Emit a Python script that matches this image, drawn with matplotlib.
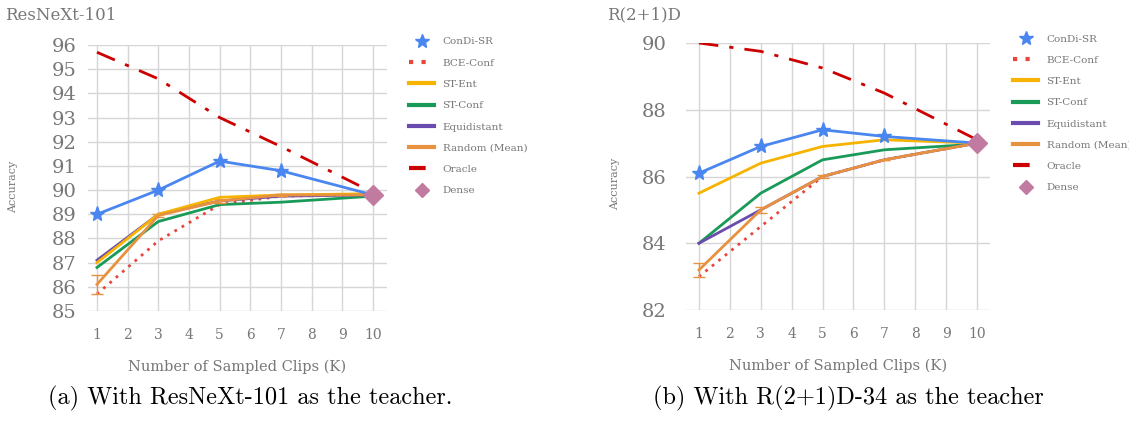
import numpy as np
import matplotlib
matplotlib.use('Agg')
import matplotlib.pyplot as plt
from matplotlib.lines import Line2D

# sampled clip counts
K = [1, 3, 5, 7, 10]

# (a) ResNeXt-101 teacher
a_condi = [89.0, 90.0, 91.2, 90.8, 89.8]
a_bce = [85.7, 87.9, 89.4, 89.75, 89.8]
a_stent = [87.0, 89.0, 89.7, 89.8, 89.85]
a_stconf = [86.8, 88.7, 89.4, 89.5, 89.75]
a_equi = [87.1, 89.0, 89.55, 89.75, 89.8]
a_random = [86.1, 88.95, 89.55, 89.8, 89.8]
a_random_err = [0.38, 0.08, 0.1, 0.03, 0.0]
a_oracle = [95.7, 94.6, 93.0, 91.8, 89.9]
a_dense = 89.8

# (b) R(2+1)D-34 teacher
b_condi = [86.1, 86.9, 87.4, 87.2, 87.0]
b_bce = [83.0, 84.5, 86.0, 86.5, 87.0]
b_stent = [85.5, 86.4, 86.9, 87.1, 87.0]
b_stconf = [84.0, 85.5, 86.5, 86.8, 86.97]
b_equi = [84.0, 85.0, 86.0, 86.5, 87.0]
b_random = [83.2, 85.0, 86.0, 86.5, 87.0]
b_random_err = [0.2, 0.1, 0.03, 0.0, 0.0]
b_oracle = [90.0, 89.75, 89.25, 88.5, 87.1]
b_dense = 87.0

labels = ['ConDi-SR', 'BCE-Conf', 'ST-Ent', 'ST-Conf', 'Equidistant',
          'Random (Mean)', 'Oracle', 'Dense']

C_BLUE = '#4a86f0'
C_RED = '#e8453c'
C_YEL = '#f6b400'
C_GRN = '#1a9a58'
C_PUR = '#6a4caf'
C_ORA = '#e8913f'
C_ORC = '#cc0000'
C_DEN = '#c27ba0'
TXT = '#777777'
GRID = '#d6d6d6'

SERIF = 'DejaVu Serif'

W, H = 1129, 422
fig = plt.figure(figsize=(W / 100, H / 100), dpi=100)


def px_axes(x0, x1, y0, y1):
    return fig.add_axes([x0 / W, (H - y1) / H, (x1 - x0) / W, (y1 - y0) / H])


def draw_panel(ax, condi, bce, stent, stconf, equi, rnd, rnd_err, oracle, dense,
               yticks, xlim, ypad):
    ax.plot(K, oracle, color=C_ORC, lw=2, ls=(0, (7, 4, 1.5, 4)), zorder=3)
    ax.plot(K, bce, color=C_RED, lw=2, ls=(0, (1, 2)), zorder=3)
    ax.plot(K, stconf, color=C_GRN, lw=2, zorder=3)
    ax.plot(K, equi, color=C_PUR, lw=2, zorder=3)
    ax.errorbar(K, rnd, yerr=rnd_err, color=C_ORA, lw=2, elinewidth=1,
                capsize=4, capthick=1, zorder=4)
    ax.plot(K, stent, color=C_YEL, lw=2, zorder=4)
    ax.plot(K, condi, color=C_BLUE, lw=2, marker='*', ms=11, zorder=5)
    ax.plot([10], [dense], color=C_DEN, marker='D', ms=10, ls='none', zorder=6)

    ax.set_xlim(*xlim)
    ax.set_ylim(yticks[0], yticks[-1])
    ax.set_xticks(range(1, 11))
    ax.set_yticks(yticks)
    ax.grid(True, color=GRID, lw=1)
    ax.set_axisbelow(True)
    for s in ax.spines.values():
        s.set_visible(False)
    ax.tick_params(length=0, colors=TXT)
    ax.tick_params(axis='x', pad=12, labelsize=10)
    ax.tick_params(axis='y', pad=ypad, labelsize=14)
    for t in ax.get_xticklabels() + ax.get_yticklabels():
        t.set_fontfamily(SERIF)
    ax.set_xlabel('Number of Sampled Clips (K)', color=TXT, fontsize=10.5,
                  family=SERIF, labelpad=13)


ax1 = px_axes(88, 387, 45, 311)
draw_panel(ax1, a_condi, a_bce, a_stent, a_stconf, a_equi, a_random,
           a_random_err, a_oracle, a_dense, list(range(85, 97)),
           (0.707, 10.456), 8)

ax2 = px_axes(686, 990, 43, 310)
draw_panel(ax2, b_condi, b_bce, b_stent, b_stconf, b_equi, b_random,
           b_random_err, b_oracle, b_dense, [82, 84, 86, 88, 90],
           (0.58, 10.42), 14)

# titles and y labels
fig.text(5 / W, 1 - 15 / H, 'ResNeXt-101', color=TXT, fontsize=12,
         family=SERIF, va='center', ha='left')
fig.text(607 / W, 1 - 15 / H, 'R(2+1)D', color=TXT, fontsize=12,
         family=SERIF, va='center', ha='left')
fig.text(13 / W, 1 - 187 / H, 'Accuracy', color=TXT, fontsize=8,
         family=SERIF, rotation=90, va='center', ha='center')
fig.text(615 / W, 1 - 184 / H, 'Accuracy', color=TXT, fontsize=8,
         family=SERIF, rotation=90, va='center', ha='center')

# legends
handles = [
    Line2D([], [], color=C_BLUE, marker='*', ms=10, ls='none'),
    Line2D([], [], color=C_RED, lw=3, ls=(0, (1, 2))),
    Line2D([], [], color=C_YEL, lw=3),
    Line2D([], [], color=C_GRN, lw=3),
    Line2D([], [], color=C_PUR, lw=3),
    Line2D([], [], color=C_ORA, lw=3),
    Line2D([], [], color=C_ORC, lw=3, ls=(0, (4, 3, 1, 3))),
    Line2D([], [], color=C_DEN, marker='D', ms=7, ls='none'),
]
for x0, y0 in [(404, 32), (1008, 29)]:
    leg = fig.legend(handles, labels, loc='upper left',
                     bbox_to_anchor=(x0 / W, 1 - y0 / H), frameon=False,
                     prop={'family': SERIF, 'size': 7.5}, labelspacing=1.15,
                     handlelength=2.4, handletextpad=0.8, borderpad=0)
    for t in leg.get_texts():
        t.set_color(TXT)

# captions
fig.text(250 / W, 1 - 398 / H, '(a) With ResNeXt-101 as the teacher.',
         family='cmr10', fontsize=17.5, ha='center', va='center')
fig.text(848 / W, 1 - 398 / H, '(b) With R(2+1)D-34 as the teacher',
         family='cmr10', fontsize=17.5, ha='center', va='center')

fig.savefig('out.png', dpi=100)
